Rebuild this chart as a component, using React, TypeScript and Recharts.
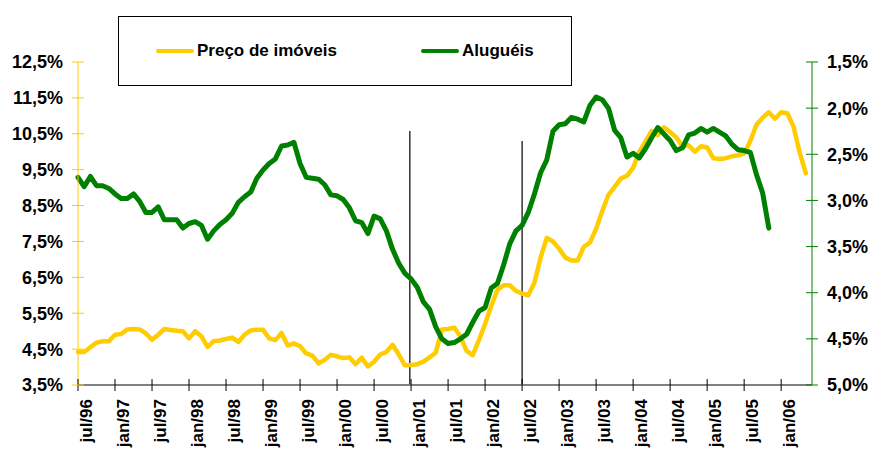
import { LineChart, Line, XAxis, YAxis, ReferenceLine } from 'recharts'

// monthly, jul/96 = index 0
const MONTH_LABELS = ['jul', 'jan']
const TICK_INDEXES = Array.from({ length: 20 }, (_, k) => k * 6)

const PRECO_IMOVEIS = [
  4.42, 4.42, 4.55, 4.68, 4.72, 4.72, 4.9, 4.92, 5.05, 5.06,
  5.05, 4.94, 4.76, 4.9, 5.06, 5.03, 5.01, 5.0, 4.8, 5.0,
  4.86, 4.56, 4.72, 4.74, 4.78, 4.82, 4.7, 4.9, 5.02, 5.04,
  5.04, 4.8, 4.75, 4.95, 4.6, 4.66, 4.58, 4.38, 4.32, 4.1,
  4.2, 4.34, 4.3, 4.25, 4.27, 4.08, 4.26, 4.02, 4.15, 4.35,
  4.42, 4.62, 4.35, 4.05, 4.06, 4.08, 4.15, 4.27, 4.4, 5.05,
  5.06, 5.1, 4.85, 4.45, 4.33, 4.75, 5.2, 5.7, 6.15, 6.28,
  6.28, 6.12, 6.05, 6.0, 6.35, 7.05, 7.6, 7.5, 7.3, 7.05,
  6.97, 6.97, 7.35, 7.47, 7.85, 8.35, 8.8, 9.02, 9.25, 9.33,
  9.55, 10.0, 10.28, 10.58, 10.46, 10.68, 10.55, 10.4, 10.15, 10.18,
  10.0, 10.15, 10.12, 9.82, 9.8, 9.82, 9.87, 9.9, 9.95, 10.3,
  10.75, 10.95, 11.1, 10.92, 11.1, 11.07, 10.7, 9.98, 9.4,
]

const ALUGUEIS = [
  2.75, 2.85, 2.74, 2.84, 2.84, 2.87, 2.93, 2.98, 2.98, 2.93,
  3.01, 3.13, 3.13, 3.07, 3.21, 3.21, 3.21, 3.3, 3.25, 3.23,
  3.27, 3.42, 3.33, 3.26, 3.21, 3.14, 3.02, 2.96, 2.91, 2.76,
  2.67, 2.6, 2.55, 2.41, 2.4, 2.37, 2.6, 2.75, 2.76, 2.77,
  2.83, 2.94, 2.95, 2.99, 3.08, 3.22, 3.24, 3.36, 3.17, 3.2,
  3.33, 3.53, 3.68, 3.79, 3.85, 3.94, 4.1, 4.18, 4.37, 4.5,
  4.55, 4.54, 4.5, 4.45, 4.32, 4.2, 4.16, 3.95, 3.9, 3.7,
  3.47, 3.33, 3.27, 3.13, 2.93, 2.7, 2.56, 2.25, 2.18, 2.17,
  2.1, 2.12, 2.15, 1.97, 1.88, 1.91, 2.0, 2.24, 2.32, 2.53,
  2.49, 2.54, 2.44, 2.32, 2.21, 2.28, 2.35, 2.46, 2.43, 2.29,
  2.27, 2.22, 2.26, 2.22, 2.26, 2.3, 2.39, 2.45, 2.46, 2.48,
  2.72, 2.92, 3.3,
]

const LEFT_TICKS = [3.5, 4.5, 5.5, 6.5, 7.5, 8.5, 9.5, 10.5, 11.5, 12.5]
const RIGHT_TICKS = [1.5, 2.0, 2.5, 3.0, 3.5, 4.0, 4.5, 5.0]

// vertical markers: [month index, top value on left axis]
const MARKERS: [number, number][] = [
  [53.8, 10.58],
  [72, 10.3],
]

const YELLOW = '#FFCC00'
const GREEN = '#008000'
const FONT = '"Liberation Sans", Arial, sans-serif'

const data = PRECO_IMOVEIS.map((v, i) => ({
  i,
  preco: v,
  alug: i < ALUGUEIS.length ? ALUGUEIS[i] : undefined,
}))

const monthLabel = (i: number) => {
  const year = 96 + Math.floor((i + 6) / 12)
  return `${MONTH_LABELS[(i / 6) % 2]}/${String(year % 100).padStart(2, '0')}`
}

const pct = (v: number) => `${v.toFixed(1).replace('.', ',')}%`

const LeftTick = ({ x, y, payload }: any) => (
  <g>
    <line x1={x - 6} x2={x + 6} y1={y} y2={y} stroke={YELLOW} strokeWidth={1} />
    <text x={x - 15} y={y} dy="0.36em" textAnchor="end" fontFamily={FONT} fontWeight="bold" fontSize={18} fill="#000">
      {pct(payload.value)}
    </text>
  </g>
)

const RightTick = ({ x, y, payload }: any) => (
  <g>
    <line x1={x - 6} x2={x + 6} y1={y} y2={y} stroke={GREEN} strokeWidth={1} />
    <text x={x + 15} y={y} dy="0.36em" textAnchor="start" fontFamily={FONT} fontWeight="bold" fontSize={18} fill="#000">
      {pct(payload.value)}
    </text>
  </g>
)

const BottomTick = ({ x, y, payload }: any) => (
  <g>
    <line x1={x} x2={x} y1={y - 6} y2={y + 6} stroke="#000" strokeWidth={1} />
    <text
      transform={`translate(${x + 8},${y + 14}) rotate(-90)`}
      dy="0.36em"
      textAnchor="end"
      fontFamily={FONT}
      fontWeight="bold"
      fontSize={17}
      fill="#000"
    >
      {monthLabel(payload.value)}
    </text>
  </g>
)

export default function App() {
  return (
    <div style={{ position: 'absolute', left: 0, top: 0, width: 873, height: 449, background: '#fff' }}>
      <LineChart width={873} height={449} data={data} margin={{ top: 62, right: 0, bottom: 0, left: 0 }}>
        <XAxis
          dataKey="i"
          type="number"
          domain={[0, 119]}
          ticks={TICK_INDEXES}
          interval={0}
          height={64}
          tickSize={0}
          tickMargin={0}
          tick={<BottomTick />}
          axisLine={{ stroke: '#808080', strokeWidth: 2 }}
        />
        <YAxis
          yAxisId="left"
          domain={[3.5, 12.5]}
          ticks={LEFT_TICKS}
          interval={0}
          width={78}
          tickSize={0}
          tickMargin={0}
          tick={<LeftTick />}
          axisLine={{ stroke: YELLOW, strokeWidth: 1 }}
        />
        <YAxis
          yAxisId="right"
          orientation="right"
          reversed
          domain={[1.5, 5.0]}
          ticks={RIGHT_TICKS}
          interval={0}
          width={61}
          tickSize={0}
          tickMargin={0}
          tick={<RightTick />}
          axisLine={{ stroke: GREEN, strokeWidth: 1 }}
        />
        {MARKERS.map(([x, top]) => (
          <ReferenceLine
            key={x}
            yAxisId="left"
            segment={[{ x, y: top }, { x, y: 3.5 }]}
            stroke="#000"
            strokeWidth={1.2}
          />
        ))}
        <Line
          yAxisId="left"
          type="linear"
          dataKey="preco"
          stroke={YELLOW}
          strokeWidth={4.5}
          dot={false}
          strokeLinejoin="round"
          strokeLinecap="round"
          isAnimationActive={false}
        />
        <Line
          yAxisId="right"
          type="linear"
          dataKey="alug"
          stroke={GREEN}
          strokeWidth={5}
          dot={false}
          strokeLinejoin="round"
          strokeLinecap="round"
          isAnimationActive={false}
        />
      </LineChart>

      {/* Legend */}
      <div
        style={{
          position: 'absolute',
          left: 118,
          top: 16,
          width: 454,
          height: 70,
          border: '1px solid #000',
          boxSizing: 'border-box',
          fontFamily: FONT,
          fontWeight: 'bold',
          fontSize: 17,
          color: '#000',
        }}
      >
        {[
          { name: 'Preço de imóveis', color: YELLOW, left: 37 },
          { name: 'Aluguéis', color: GREEN, left: 302 },
        ].map((item) => (
          <div
            key={item.name}
            style={{ position: 'absolute', left: item.left, top: 24, display: 'flex', alignItems: 'center', gap: 3 }}
          >
            <div style={{ width: 38, height: 4, borderRadius: 2, background: item.color }} />
            <span>{item.name}</span>
          </div>
        ))}
      </div>
    </div>
  )
}
